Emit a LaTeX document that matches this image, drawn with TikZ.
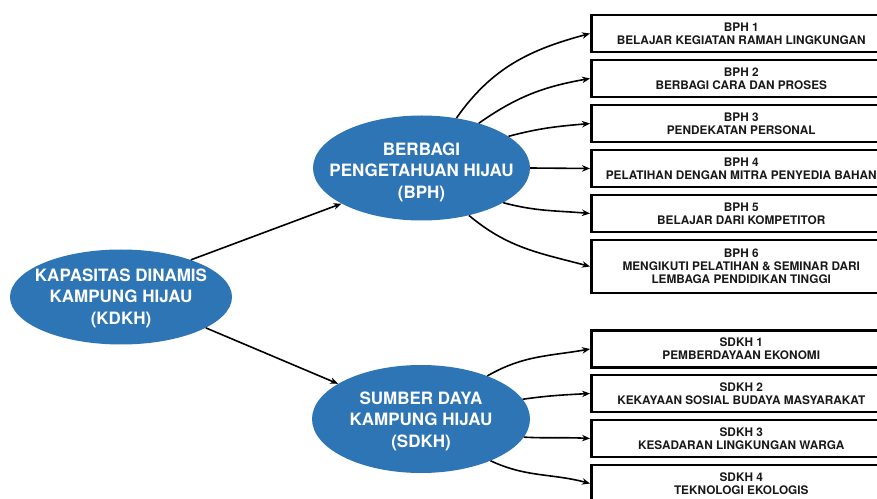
\documentclass[tikz,border=0pt]{standalone}
\usepackage{fontspec}
\setmainfont{TeX Gyre Heros}
\usetikzlibrary{shapes.geometric,arrows.meta}
\definecolor{ellblue}{RGB}{46,117,182}
\begin{document}
\begin{tikzpicture}[x=1pt,y=1pt,
  blob/.style={ellipse, fill=ellblue, draw=none, inner sep=0pt},
  blobtext/.style={text=white, font=\fontsize{17}{21.5}\selectfont\bfseries, align=center, inner sep=0pt},
  itembox/.style={draw=black, line width=2.5pt, minimum width=300pt, minimum height=37pt, anchor=west, align=center, font=\fontsize{11.8}{13}\selectfont\bfseries, text=black!90, inner sep=0pt},
  conn/.style={line width=1.6pt, -{Stealth[length=8pt,width=6.5pt]}}
]
\useasboundingbox (0,0) rectangle (877,498);
\clip (0,0) rectangle (877,498);

% ellipses
\node[blob, minimum width=222pt, minimum height=95pt] (kdkh) at (121,201) {};
\node[blobtext] (kdkht) at (121,200) {KAPASITAS DINAMIS\\KAMPUNG HIJAU\\(KDKH)};
\node[blob, minimum width=217pt, minimum height=105pt] (bph) at (421.5,330) {};
\node[blobtext] (bpht) at (421.5,326) {BERBAGI\\PENGETAHUAN HIJAU\\(BPH)};
\node[blob, minimum width=218pt, minimum height=108pt] (sdkh) at (421,79) {};
\node[blobtext] (sdkht) at (421,77) {SUMBER DAYA\\KAMPUNG HIJAU\\(SDKH)};

% boxes
\node[itembox] (b1) at (590,464.5) {BPH 1\\BELAJAR KEGIATAN RAMAH LINGKUNGAN};
\node[itembox] (b2) at (590,419.5) {BPH 2\\BERBAGI CARA DAN PROSES};
\node[itembox] (b3) at (590,374.5) {BPH 3\\PENDEKATAN PERSONAL};
\node[itembox] (b4) at (590,329.5) {BPH 4\\PELATIHAN DENGAN MITRA PENYEDIA BAHAN};
\node[itembox] (b5) at (590,284.5) {BPH 5\\BELAJAR DARI KOMPETITOR};
\node[itembox, minimum height=53pt] (b6) at (590,231.5) {BPH 6\\MENGIKUTI PELATIHAN \& SEMINAR DARI\\LEMBAGA PENDIDIKAN TINGGI};
\node[itembox] (s1) at (590,149) {SDKH 1\\PEMBERDAYAAN EKONOMI};
\node[itembox] (s2) at (590,104.5) {SDKH 2\\KEKAYAAN SOSIAL BUDAYA MASYARAKAT};
\node[itembox] (s3) at (590,59.5) {SDKH 3\\KESADARAN LINGKUNGAN WARGA};
\node[itembox] (s4) at (590,14.5) {SDKH 4\\TEKNOLOGI EKOLOGIS};

% main connectors
\draw[conn] (kdkh.28) -- (bph.204);
\draw[conn] (kdkh.340) -- (sdkh.157);

% BPH connectors
\draw[conn] (bph.55) to[out=55,in=195] (b1.west);
\draw[conn] (bph.38) to[out=35,in=190] (b2.west);
\draw[conn] (bph.20) to[out=15,in=185] (b3.west);
\draw[conn] (bph.0) -- (b4.west);
\draw[conn] (bph.337) to[out=-15,in=175] (b5.west);
\draw[conn] (bph.315) to[out=-40,in=165] (b6.west);

% SDKH connectors
\draw[conn] (sdkh.33) to[out=30,in=190] (s1.west);
\draw[conn] (sdkh.11) to[out=8,in=183] (s2.west);
\draw[conn] (sdkh.350) to[out=-3,in=177] (s3.west);
\draw[conn] (sdkh.329) to[out=-25,in=165] (s4.west);
\end{tikzpicture}
\end{document}
